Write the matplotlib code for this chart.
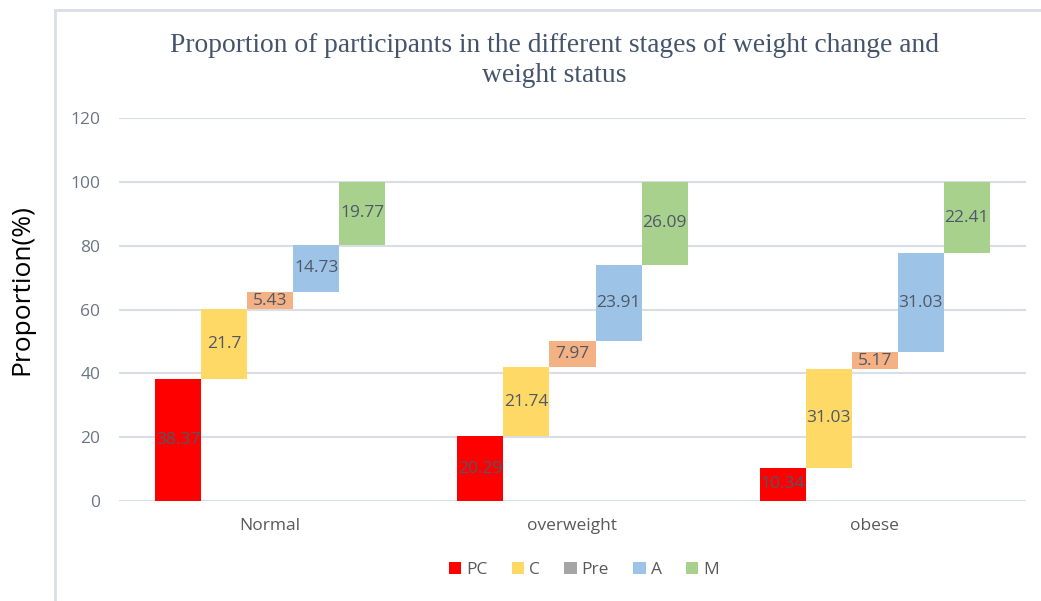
import matplotlib
matplotlib.use("Agg")
import matplotlib.pyplot as plt
from matplotlib.patches import Rectangle, Patch
import numpy as np

categories = ["Normal", "overweight", "obese"]
stages = ["PC", "C", "Pre", "A", "M"]
pc = [38.37, 20.29, 10.34]
c = [21.7, 21.74, 31.03]
pre = [5.43, 7.97, 5.17]
a = [14.73, 23.91, 31.03]
m = [19.77, 26.09, 22.41]
bar_colors = ["#FF0000", "#FFD966", "#F4B183", "#9DC3E6", "#A9D18E"]
legend_colors = ["#FF0000", "#FFD966", "#A5A5A5", "#9DC3E6", "#A9D18E"]
yticks = [0, 20, 40, 60, 80, 100, 120]

W, H = 1041, 601
fig = plt.figure(figsize=(W / 100, H / 100), dpi=100)
ax = fig.add_axes([119 / W, 1 - 501 / H, (1026 - 119) / W, (501 - 118) / H])

series = [pc, c, pre, a, m]
vals = np.array(series)
bottoms = np.vstack([np.zeros(len(categories)), np.cumsum(vals, axis=0)[:-1]])
x = np.arange(len(categories))
bw = 46 / 302.3
label_col = "#4F5868"
for i, (name, col) in enumerate(zip(stages, bar_colors)):
    xs = x + (i - 2) * bw
    ax.bar(xs, vals[i], width=bw, bottom=bottoms[i], color=col, zorder=2)
    for xx, v, b in zip(xs, vals[i], bottoms[i]):
        ax.text(xx, b + v / 2, f"{v:g}", ha="center", va="center",
                fontsize=12.5, color=label_col, family="Open Sans", zorder=3)

ax.set_xlim(-0.5, 2.5)
ax.set_ylim(0, 120)
ax.set_yticks(yticks)
ax.set_xticks(x)
ax.set_xticklabels(categories, fontsize=12.5, color="#595959", family="Open Sans")
ax.set_yticklabels([str(t) for t in yticks], fontsize=12.5, color="#6B7585", family="Open Sans")
ax.tick_params(axis="both", length=0)
ax.tick_params(axis="y", pad=13.5)
ax.tick_params(axis="x", pad=12)
ax.grid(axis="y", color="#D9DEE6", linewidth=1.5, zorder=0)
for s in ax.spines.values():
    s.set_visible(False)

fig.text(554 / W, 1 - 45 / H, "Proportion of participants in the different stages of weight change and",
         ha="center", va="center", fontsize=19.8, family="Liberation Serif", color="#44546A")
fig.text(554 / W, 1 - 75 / H, "weight status",
         ha="center", va="center", fontsize=19.8, family="Liberation Serif", color="#44546A")

fig.text(22 / W, 1 - 290 / H, "Proportion(%)", rotation=90, ha="center", va="center",
         fontsize=19, family="Open Sans", color="black")

handles = [Patch(facecolor=cc, edgecolor="none") for cc in legend_colors]
fig.legend(handles, stages, loc="center", bbox_to_anchor=(584 / W, 1 - 570 / H), ncol=5,
           frameon=False, handlelength=0.7, handleheight=0.7, handletextpad=0.3,
           columnspacing=1.4, prop={"family": "Open Sans", "size": 12.5}, labelcolor="#595959")

fig.patches.append(Rectangle((54.5 / W, -0.1), 1.2, 1.1 - 10 / H, transform=fig.transFigure,
                             fill=False, edgecolor="#D9DEE6", linewidth=2))

fig.savefig("out.png", dpi=100)
